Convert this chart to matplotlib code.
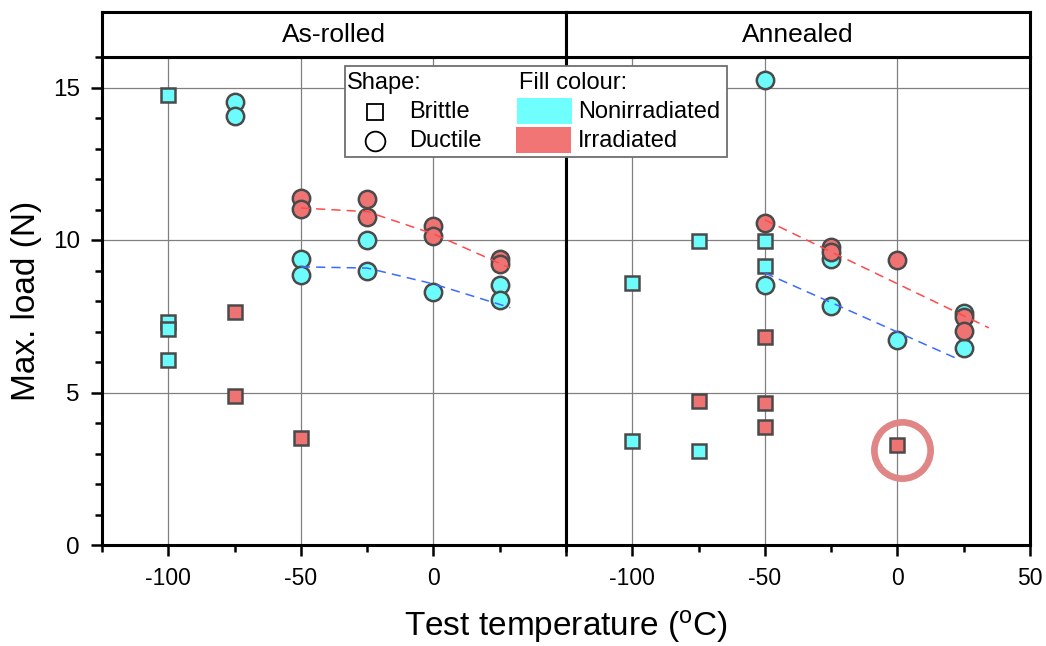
import matplotlib
matplotlib.use('Agg')
import matplotlib.pyplot as plt
from matplotlib import font_manager
from matplotlib.lines import Line2D
from matplotlib.patches import Rectangle
from matplotlib.ticker import MultipleLocator

# ---------------- data ----------------
panels = ["As-rolled", "Annealed"]

# As-rolled
ar_nonirr_brittle_T = [-100, -100, -100, -100]
ar_nonirr_brittle_L = [14.77, 7.31, 7.08, 6.06]
ar_irr_brittle_T = [-75, -75, -50]
ar_irr_brittle_L = [7.63, 4.88, 3.50]
ar_nonirr_ductile_T = [-75, -75, -50, -50, -25, -25, 0, 25, 25]
ar_nonirr_ductile_L = [14.53, 14.08, 9.37, 8.84, 9.99, 8.98, 8.29, 8.52, 8.04]
ar_irr_ductile_T = [-50, -50, -25, -25, 0, 0, 25, 25]
ar_irr_ductile_L = [11.38, 11.03, 11.33, 10.74, 10.46, 10.13, 9.37, 9.21]
ar_irr_trend_T = [-50, -25, 0, 28.5]
ar_irr_trend_L = [11.05, 10.93, 10.2, 9.1]
ar_nonirr_trend_T = [-50, -25, 0, 29]
ar_nonirr_trend_L = [9.12, 9.08, 8.56, 7.78]

# Annealed
an_nonirr_brittle_T = [-100, -100, -75, -75, -50, -50]
an_nonirr_brittle_L = [8.60, 3.40, 9.98, 3.09, 9.98, 9.15]
an_irr_brittle_T = [-75, -50, -50, -50, 0]
an_irr_brittle_L = [4.71, 6.82, 4.67, 3.88, 3.27]
an_nonirr_ductile_T = [-50, -50, -25, -25, 0, 25, 25]
an_nonirr_ductile_L = [15.26, 8.52, 9.37, 7.84, 6.73, 7.61, 6.47]
an_irr_ductile_T = [-50, -25, -25, 0, 25, 25]
an_irr_ductile_L = [10.56, 9.78, 9.60, 9.33, 7.46, 7.02]
an_irr_trend_T = [-50, 34.5]
an_irr_trend_L = [10.66, 7.12]
an_nonirr_trend_T = [-50, 23.5]
an_nonirr_trend_L = [8.92, 6.07]

highlight_T = [1.6]
highlight_L = [3.13]

xticks_major = [-100, -50, 0, 50]
yticks_major = [0, 5, 10, 15]

# ---------------- style ----------------
names = {f.name for f in font_manager.fontManager.ttflist}
BASE = 'Liberation Sans' if 'Liberation Sans' in names else 'DejaVu Sans'

plt.rcParams['font.family'] = [BASE, 'DejaVu Sans']
plt.rcParams['axes.unicode_minus'] = False
plt.rcParams['mathtext.fontset'] = 'custom'
plt.rcParams['mathtext.rm'] = BASE
plt.rcParams['mathtext.it'] = BASE

CYAN = '#6DFCFC'
RED = '#F07373'
EDGE = '#4a4a4a'
GRID = '#808080'
SPW = 2.2

W, H = 1046, 646
fig = plt.figure(figsize=(W / 100, H / 100), dpi=100)


def fx(px):
    return px / W


def fy(py):
    return 1 - py / H


x_left = [102, 566]
x_right = [566, 1030]
y_top, y_bot, y_strip = 57, 545, 12

axes = []
for (x0, x1), name in zip([x_left, x_right], panels):
    ax = fig.add_axes([fx(x0), fy(y_bot), fx(x1) - fx(x0), fy(y_top) - fy(y_bot)])
    sax = fig.add_axes([fx(x0), fy(y_top), fx(x1) - fx(x0), fy(y_strip) - fy(y_top)])
    sax.set_xticks([])
    sax.set_yticks([])
    for s in sax.spines.values():
        s.set_linewidth(SPW)
        s.set_color('black')
    sax.text(0.5, 0.5, name, ha='center', va='center', fontsize=19,
             transform=sax.transAxes)
    axes.append(ax)

for i, ax in enumerate(axes):
    ax.set_xlim(-125, 50)
    ax.set_ylim(0, 16)
    ax.set_axisbelow(True)
    ax.grid(True, which='major', color=GRID, lw=0.9)
    for s in ax.spines.values():
        s.set_linewidth(SPW)
        s.set_color('black')
    labels = [str(v) for v in xticks_major]
    if i == 0:
        labels[-1] = ''
    ax.set_xticks(xticks_major, labels, fontsize=16.5)
    ax.xaxis.set_minor_locator(MultipleLocator(25))
    ax.set_yticks(yticks_major, [str(v) for v in yticks_major], fontsize=17.5)
    ax.yaxis.set_minor_locator(MultipleLocator(1))
    ax.tick_params(which='major', direction='out', length=8, width=1.8, pad=8)
    ax.tick_params(which='minor', direction='out', length=5, width=1.8)
    ax.tick_params(top=False, right=False, which='both')
    if i == 1:
        ax.tick_params(axis='y', which='both', left=False, labelleft=False)

sq = dict(marker='s', ms=9.9, mec=EDGE, mew=1.8, ls='none')
ci = dict(marker='o', ms=12.5, mec=EDGE, mew=1.8, ls='none')
dash = dict(lw=1.1, ls=(0, (6, 4)))

groups = [
    (axes[0], ar_nonirr_brittle_T, ar_nonirr_brittle_L, ar_irr_brittle_T, ar_irr_brittle_L,
     ar_nonirr_ductile_T, ar_nonirr_ductile_L, ar_irr_ductile_T, ar_irr_ductile_L,
     ar_irr_trend_T, ar_irr_trend_L, ar_nonirr_trend_T, ar_nonirr_trend_L),
    (axes[1], an_nonirr_brittle_T, an_nonirr_brittle_L, an_irr_brittle_T, an_irr_brittle_L,
     an_nonirr_ductile_T, an_nonirr_ductile_L, an_irr_ductile_T, an_irr_ductile_L,
     an_irr_trend_T, an_irr_trend_L, an_nonirr_trend_T, an_nonirr_trend_L),
]
for (ax, nbT, nbL, ibT, ibL, ndT, ndL, idT, idL, itT, itL, ntT, ntL) in groups:
    ax.plot(nbT, nbL, mfc=CYAN, zorder=3, **sq)
    ax.plot(ibT, ibL, mfc=RED, zorder=3, **sq)
    ax.plot(ndT, ndL, mfc=CYAN, zorder=4, **ci)
    ax.plot(idT, idL, mfc=RED, zorder=4, **ci)
    ax.plot(itT, itL, color='#FF4A4A', zorder=5, **dash)
    ax.plot(ntT, ntL, color='#3A6BFF', zorder=5, **dash)

axes[1].plot(highlight_T, highlight_L, marker='o', ms=40.5, mfc='none',
             mec='#E08686', mew=4.8, ls='none', zorder=6, clip_on=False)

# ---------------- legend (figure coords) ----------------
fig.add_artist(Rectangle((fx(345), fy(157)), fx(727) - fx(345), fy(66) - fy(157),
                         transform=fig.transFigure, facecolor='white',
                         edgecolor='#6e6e6e', lw=1.3, zorder=10))
LFS = 17
fig.text(fx(347), fy(83), 'Shape:', fontsize=LFS, va='center', ha='left', zorder=11)
fig.text(fx(519), fy(83), 'Fill colour:', fontsize=LFS, va='center', ha='left', zorder=11)
fig.add_artist(Line2D([fx(375)], [fy(111.5)], transform=fig.transFigure, marker='s',
                      ms=11.6, mfc='none', mec='black', mew=1.3, ls='none', zorder=11))
fig.add_artist(Line2D([fx(375)], [fy(141)], transform=fig.transFigure, marker='o',
                      ms=14.2, mfc='none', mec='black', mew=1.3, ls='none', zorder=11))
fig.text(fx(409), fy(112), 'Brittle', fontsize=LFS, va='center', ha='left', zorder=11)
fig.text(fx(409), fy(141), 'Ductile', fontsize=LFS, va='center', ha='left', zorder=11)
fig.add_artist(Rectangle((fx(517), fy(124)), fx(572) - fx(517), fy(98) - fy(124),
                         transform=fig.transFigure, facecolor='#70FFFF', lw=0, zorder=11))
fig.add_artist(Rectangle((fx(516), fy(153)), fx(571) - fx(516), fy(127) - fy(153),
                         transform=fig.transFigure, facecolor='#F27575', lw=0, zorder=11))
fig.text(fx(578), fy(112), 'Nonirradiated', fontsize=LFS, va='center', ha='left', zorder=11)
fig.text(fx(578), fy(141), 'Irradiated', fontsize=LFS, va='center', ha='left', zorder=11)

# ---------------- axis labels ----------------
fig.text(fx(27), fy(301), 'Max. load (N)', rotation=90, ha='center', va='center', fontsize=24)
fig.text(fx(566), fy(636), 'Test temperature ($^{\\mathrm{o}}$C)', ha='center', va='baseline',
         fontsize=24)

fig.savefig('out.png', dpi=100)
